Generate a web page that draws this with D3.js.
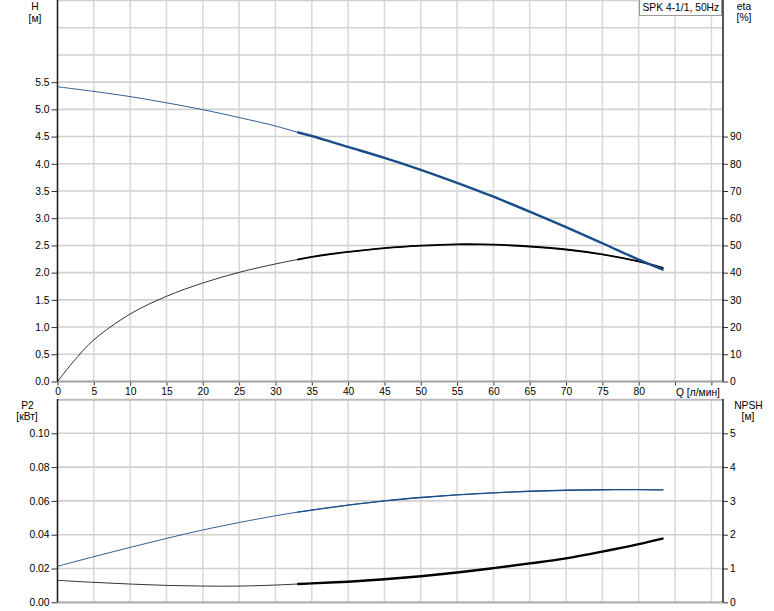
<!DOCTYPE html>
<html><head><meta charset="utf-8">
<script src="https://cdn.jsdelivr.net/npm/d3@7"></script>
<style>
body{margin:0;background:#fff;}
svg text{font-family:"Liberation Sans",Arial,sans-serif;font-size:10.3px;fill:#000;}
</style></head>
<body><svg id="c" width="774" height="611"></svg>
<script>
// ---- data ----
const title = "SPK 4-1/1, 50Hz";
const qTicks = [0,5,10,15,20,25,30,35,40,45,50,55,60,65,70,75,80];
const hTicks = [0.0,0.5,1.0,1.5,2.0,2.5,3.0,3.5,4.0,4.5,5.0,5.5];
const etaTicks = [0,10,20,30,40,50,60,70,80,90];
const p2Ticks = [0.00,0.02,0.04,0.06,0.08,0.10];
const npshTicks = [0,1,2,3,4,5];

const qH = [0,5,10,15,20,25,30,33,35,40,45,50,55,60,65,70,75,80,83.4];
const hVals = [5.415,5.33,5.235,5.12,4.995,4.85,4.695,4.58,4.51,4.31,4.11,3.89,3.65,3.395,3.12,2.835,2.54,2.24,2.05];

const qEta = [0,2.5,5,10,15,20,25,30,33,35,40,45,50,55,58,60,65,70,75,80,83.4];
const etaVals = [0,8.3,15.3,24.8,31.3,36.2,40.1,43.2,44.8,45.8,47.6,49.0,49.9,50.4,50.4,50.3,49.6,48.5,46.7,44.1,41.7];

const qP2 = [0,5,10,15,20,25,30,33,35,40,45,50,55,60,65,70,75,80,83.4];
const p2Vals = [0.0213,0.0270,0.0325,0.0378,0.0428,0.0472,0.0512,0.0533,0.0546,0.0575,0.0600,0.0620,0.0636,0.0648,0.0657,0.0663,0.0666,0.0667,0.0665];

const qNpsh = [0,5,10,15,20,25,30,33,35,40,45,50,55,60,65,70,75,80,83.4];
const npshVals = [0.65,0.59,0.54,0.50,0.48,0.48,0.51,0.54,0.56,0.61,0.68,0.77,0.88,1.01,1.15,1.30,1.50,1.72,1.89];

const thickFrom = 33;

// ---- layout ----
const svg = d3.select("#c");
const L = 57.5, R = 723;
const x = d3.scaleLinear().domain([0,91.6]).range([L,R]);
const yH = d3.scaleLinear().domain([0,7]).range([381.5,0.5]);
const yEta = d3.scaleLinear().domain([0,140]).range([381.5,0.5]);
const yP = d3.scaleLinear().domain([0,0.12]).range([602.3,399.5]);
const yN = d3.scaleLinear().domain([0,6]).range([602.3,399.5]);
const blue = "#1a4e8a";

function grid(y, yTop, yBot, hvals){
  const g = svg.append("g");
  g.selectAll("line.v").data(d3.range(5,91,5)).enter().append("line")
    .attr("x1",d=>x(d)).attr("x2",d=>x(d)).attr("y1",yTop).attr("y2",yBot)
    .attr("stroke","#dadada").attr("stroke-width",1.6);
  g.selectAll("line.h").data(hvals).enter().append("line")
    .attr("x1",L).attr("x2",R).attr("y1",d=>y(d)).attr("y2",d=>y(d))
    .attr("stroke","#d0d0d0").attr("stroke-width",1.6);
}
grid(yH, 0, 381.5, d3.range(0.5,7.01,0.5));
grid(yP, 399.5, 602.3, [0.02,0.04,0.06,0.08,0.10]);

// bottom plot top line
svg.append("line").attr("x1",L).attr("x2",R).attr("y1",399.8).attr("y2",399.8).attr("stroke","#bbb").attr("stroke-width",2);

// axes
function fmt1(d){return d.toFixed(1);}
const axL1 = svg.append("g").attr("transform",`translate(${L},0)`).call(d3.axisLeft(yH).tickValues(hTicks).tickFormat(fmt1).tickSize(6).tickPadding(2));
const axR1 = svg.append("g").attr("transform",`translate(${R},0)`).call(d3.axisRight(yEta).tickValues(etaTicks).tickFormat(d3.format("d")).tickSize(5).tickPadding(2));
const axB1 = svg.append("g").attr("transform",`translate(0,381.5)`).call(d3.axisBottom(x).tickValues(qTicks.concat([85,90])).tickFormat(d=>d>80?"":d).tickSize(4).tickPadding(2));
const axL2 = svg.append("g").attr("transform",`translate(${L},0)`).call(d3.axisLeft(yP).tickValues(p2Ticks).tickFormat(d=>d.toFixed(2)).tickSize(6).tickPadding(2));
const axR2 = svg.append("g").attr("transform",`translate(${R},0)`).call(d3.axisRight(yN).tickValues(npshTicks).tickFormat(d3.format("d")).tickSize(5).tickPadding(2));
[axL1,axR1,axL2,axR2,axB1].forEach(a=>{
  a.selectAll("text").style("font-family","Liberation Sans, Arial, sans-serif").style("font-size","10.3px").attr("fill","#000");
  a.selectAll(".tick line").attr("stroke","#333");
});
axL1.select(".domain").remove(); axR1.select(".domain").remove();
axL2.select(".domain").remove(); axR2.select(".domain").remove(); axB1.select(".domain").remove();

// axis lines
svg.append("line").attr("x1",L).attr("x2",R).attr("y1",381.5).attr("y2",381.5).attr("stroke","#a0a0a0").attr("stroke-width",2.2);
svg.append("line").attr("x1",L).attr("x2",R).attr("y1",602.3).attr("y2",602.3).attr("stroke","#b0b0b0").attr("stroke-width",2.2);
svg.append("line").attr("x1",L).attr("x2",L).attr("y1",0).attr("y2",381.5).attr("stroke","#222").attr("stroke-width",1.6);
svg.append("line").attr("x1",L).attr("x2",L).attr("y1",399).attr("y2",602.3).attr("stroke","#222").attr("stroke-width",1.6);
svg.append("line").attr("x1",R).attr("x2",R).attr("y1",0).attr("y2",381.5).attr("stroke","#111").attr("stroke-width",1.4);
svg.append("line").attr("x1",R).attr("x2",R).attr("y1",399).attr("y2",602.3).attr("stroke","#111").attr("stroke-width",1.4);

// Q label
svg.append("text").attr("x",676).attr("y",396).text("Q [л/мин]");

// axis titles
function lbl(t,xx,yy){svg.append("text").attr("x",xx).attr("y",yy).attr("text-anchor","middle").text(t);}
lbl("H",35,10); lbl("[м]",35,22);
lbl("eta",744,10); lbl("[%]",744,21);
lbl("P2",27.5,409); lbl("[кВт]",27,420);
lbl("NPSH",748.5,409); lbl("[м]",748,420);

// title box
svg.append("rect").attr("x",639.5).attr("y",-1).attr("width",82).attr("height",16.5).attr("fill","#fff").attr("stroke","#999");
svg.append("text").attr("x",642.5).attr("y",11).text(title);

// curves
function drawCurve(qs, vs, ys, color, thinW, thickW){
  const pts = qs.map((q,i)=>[q,vs[i]]);
  const line = d3.line().x(d=>x(d[0])).y(d=>ys(d[1])).curve(d3.curveCatmullRom.alpha(0.5));
  svg.append("path").attr("d",line(pts)).attr("fill","none").attr("stroke",color).attr("stroke-width",thinW);
  const thick = pts.filter(d=>d[0]>=thickFrom);
  svg.append("path").attr("d",line(thick)).attr("fill","none").attr("stroke",color).attr("stroke-width",thickW);
}
drawCurve(qEta, etaVals, yEta, "#000", 0.8, 1.8);
drawCurve(qH, hVals, yH, blue, 0.9, 2.4);
drawCurve(qP2, p2Vals, yP, blue, 0.9, 1.3);
drawCurve(qNpsh, npshVals, yN, "#000", 0.8, 2.4);
</script></body></html>
